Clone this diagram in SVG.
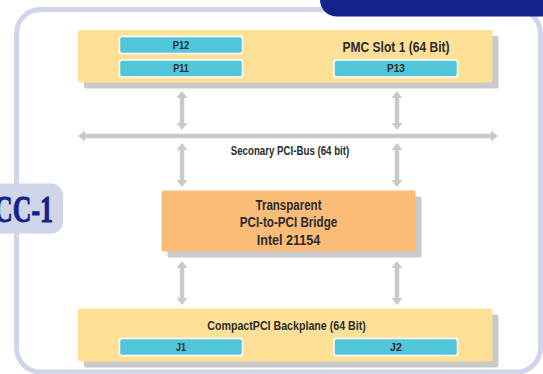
<svg xmlns="http://www.w3.org/2000/svg" width="543" height="374" viewBox="0 0 543 374">
<style>
.t{font-family:"Liberation Sans",Arial,sans-serif;font-weight:bold;fill:#2b2b2b;text-anchor:middle}
.yel{fill:#fee197}
.sh{fill:#c9c9c9}
.cy{fill:#50c6d8;stroke:#ffffff;stroke-width:1.5}
.ar{stroke:#c9c9c9;stroke-width:4.5;fill:none;marker-start:url(#ah);marker-end:url(#ah)}
</style>
<defs>
<marker id="ah" markerUnits="userSpaceOnUse" markerWidth="8" markerHeight="12" refX="1" refY="5.5" orient="auto-start-reverse" viewBox="0 0 8 11">
<path d="M0,0 L7,5.5 L0,11 z" fill="#c9c9c9"/>
</marker>
</defs>
<rect width="543" height="374" fill="#ffffff"/>
<rect x="16.5" y="9.5" width="524" height="362.5" rx="24" fill="#ffffff" stroke="#d0d5ec" stroke-width="5"/>
<path d="M320,0 H543 V16.5 H337 A17,16.5 0 0 1 320,0 Z" fill="#13238b"/>
<g id="cc1">
<rect x="-20" y="183.5" width="83" height="50" rx="12" fill="#d0d5ea"/>
<text x="53" y="222" transform="translate(53,0) scale(0.7,1) translate(-53,0)" font-family="Liberation Serif,serif" font-weight="bold" font-size="37" fill="#13238b" stroke="#13238b" stroke-width="0.9" text-anchor="end">CC-1</text>
</g>
<g id="connectors">
<line class="ar" x1="182" y1="97" x2="182" y2="124"/>
<line class="ar" x1="397" y1="97" x2="397" y2="124"/>
<line class="ar" x1="84" y1="136" x2="492" y2="136"/>
<line class="ar" x1="182" y1="149" x2="182" y2="181"/>
<line class="ar" x1="397" y1="149" x2="397" y2="181"/>
<line class="ar" x1="182" y1="267" x2="182" y2="299"/>
<line class="ar" x1="397" y1="267" x2="397" y2="299"/>
<text class="t" x="290" y="154.5" font-size="12.5" textLength="118.5" lengthAdjust="spacingAndGlyphs">Seconary PCI-Bus (64 bit)</text>
</g>
<g id="pmc">
<rect class="sh" x="84" y="36" width="414.5" height="52.5" rx="2"/>
<rect class="yel" x="78" y="30" width="414.5" height="52.5" rx="2"/>
<text class="t" x="396" y="52" font-size="14.5" textLength="107" lengthAdjust="spacingAndGlyphs">PMC Slot 1 (64 Bit)</text>
</g>
<g id="p12">
<rect class="cy" x="119.5" y="36.5" width="123" height="17" rx="2.5"/>
<text class="t" x="181" y="48.5" font-size="11" textLength="16.5" lengthAdjust="spacingAndGlyphs">P12</text>
</g>
<g id="p11">
<rect class="cy" x="119.5" y="60" width="123" height="17" rx="2.5"/>
<text class="t" x="181" y="72" font-size="11" textLength="15.5" lengthAdjust="spacingAndGlyphs">P11</text>
</g>
<g id="p13">
<rect class="cy" x="334" y="60" width="123.5" height="17" rx="2.5"/>
<text class="t" x="396" y="72" font-size="11" textLength="18" lengthAdjust="spacingAndGlyphs">P13</text>
</g>
<g id="bridge">
<rect class="sh" x="167.5" y="196.5" width="254" height="61" rx="2"/>
<rect x="161.5" y="190.5" width="254" height="61" rx="2" fill="#fbbc78"/>
<text class="t" x="288.5" y="209.5" font-size="14.5" textLength="66" lengthAdjust="spacingAndGlyphs">Transparent</text>
<text class="t" x="288.5" y="227" font-size="14.5" textLength="97.5" lengthAdjust="spacingAndGlyphs">PCI-to-PCI Bridge</text>
<text class="t" x="288.5" y="244.5" font-size="14.5" textLength="63.5" lengthAdjust="spacingAndGlyphs">Intel 21154</text>
</g>
<g id="backplane">
<rect class="sh" x="84" y="314.5" width="414.5" height="53" rx="2"/>
<rect class="yel" x="78" y="308.5" width="414.5" height="53" rx="2"/>
<text class="t" x="286.5" y="329.5" font-size="13.5" textLength="158.5" lengthAdjust="spacingAndGlyphs">CompactPCI Backplane (64 Bit)</text>
</g>
<g id="j1">
<rect class="cy" x="119.5" y="338.5" width="123" height="17" rx="2.5"/>
<text class="t" x="181" y="350.5" font-size="11" textLength="10" lengthAdjust="spacingAndGlyphs">J1</text>
</g>
<g id="j2">
<rect class="cy" x="334" y="338.5" width="123.5" height="17" rx="2.5"/>
<text class="t" x="396" y="350.5" font-size="11" textLength="12" lengthAdjust="spacingAndGlyphs">J2</text>
</g>
</svg>
